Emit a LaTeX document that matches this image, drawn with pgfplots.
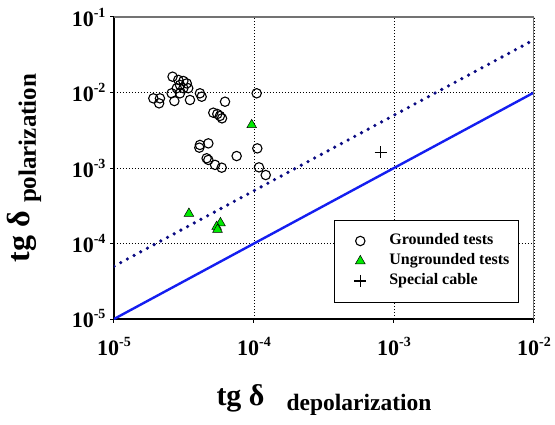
\documentclass[border=0pt]{standalone}
\usepackage{pgfplots}
\pgfplotsset{compat=1.18}
\usepackage{fontspec}
\setmainfont{Liberation Serif}

% power-of-ten tick label with a raised, smaller exponent
\newcommand\pten[1]{10\raisebox{9pt}{\fontsize{14}{14}\selectfont -#1}}

\definecolor{lineblue}{RGB}{20,30,240}
\definecolor{dotnavy}{RGB}{10,10,130}
\definecolor{trigreen}{RGB}{0,235,0}

\begin{document}
\begin{tikzpicture}
\begin{axis}[
  name=ax,
  scale only axis, width=420pt, height=302pt,
  xmode=log, ymode=log,
  xmin=1e-5, xmax=1e-2, ymin=1e-5, ymax=1e-1,
  axis x line*=bottom, axis y line*=left,
  axis line style={line width=1.2pt, black, -},
  xtick={1e-5,1e-4,1e-3,1e-2},
  ytick={1e-5,1e-4,1e-3,1e-2,1e-1},
  xticklabels={\pten{5},\pten{4},\pten{3},\pten{2}},
  yticklabels={\pten{5},\pten{4},\pten{3},\pten{2},\pten{1}},
  xminorticks=false, yminorticks=false,
  tick align=outside, major tick length=4pt,
  tick style={line width=1pt, black},
  grid=major,
  major grid style={black, line width=0.9pt, dash pattern=on 1pt off 2pt},
  ticklabel style={font=\fontsize{22}{26}\selectfont\bfseries},
  xticklabel style={yshift=-11pt},
  yticklabel style={xshift=-1pt},
  xlabel={\fontsize{30}{34}\selectfont\bfseries tg δ\hspace{22pt}\raisebox{-5pt}{\fontsize{23.5}{27}\selectfont depolarization}},
  ylabel={\fontsize{32}{36}\selectfont\bfseries tg δ\hspace{8pt}\raisebox{-6pt}{\fontsize{25}{29}\selectfont polarization}},
  xlabel style={at={(axis description cs:0.5,-0.285)}, anchor=base, inner sep=0pt},
  ylabel style={at={(axis description cs:-0.2,0.5)}, anchor=base, inner sep=0pt},
  legend style={at={(rel axis cs:0.964,0.055)}, anchor=south east,
    draw=black, line width=0.8pt, fill=white,
    font=\fontsize{16}{19}\selectfont\bfseries,
    inner xsep=0pt, inner ysep=13pt, row sep=4pt,
    nodes={inner xsep=9pt, inner ysep=0pt, text height=12pt, text depth=4pt}},
  legend image code/.code={%
    \path[draw=none, fill=none] (-26pt,0pt) -- (20pt,0pt);
    \draw[#1] plot coordinates {(0pt,0pt)};},
  legend cell align=left,
]
% reference lines: equality and five times equality
\addplot[lineblue, line width=2.4pt, forget plot] coordinates {(1e-5,1e-5) (1e-2,1e-2)};
\addplot[dotnavy, line width=3.6pt, line cap=round, dash pattern=on 0pt off 7.6pt, forget plot]
  coordinates {(1e-5,5e-5) (1e-2,5e-2)};

% grounded tests
\addplot[only marks, mark=o, mark size=4.7pt, mark options={black, line width=1.1pt}]
  coordinates {
  (2.62e-5,1.62e-2) (2.88e-5,1.47e-2) (3.13e-5,1.42e-2) (3.31e-5,1.32e-2)
  (2.96e-5,1.26e-2) (2.81e-5,1.14e-2) (3.13e-5,1.14e-2) (3.39e-5,1.14e-2)
  (2.58e-5,9.76e-3) (2.96e-5,9.76e-3) (1.91e-5,8.37e-3) (2.13e-5,8.37e-3)
  (2.10e-5,7.19e-3) (2.70e-5,7.71e-3) (3.49e-5,7.96e-3) (4.11e-5,9.76e-3)
  (4.23e-5,8.80e-3) (6.21e-5,7.55e-3) (5.12e-5,5.40e-3) (5.47e-5,5.19e-3)
  (5.71e-5,4.89e-3) (5.91e-5,4.55e-3) (1.045e-4,9.76e-3) (4.11e-5,2.02e-3)
  (4.07e-5,1.86e-3) (4.72e-5,2.12e-3) (4.59e-5,1.345e-3) (4.72e-5,1.28e-3)
  (5.27e-5,1.10e-3) (5.88e-5,1.01e-3) (7.52e-5,1.44e-3) (1.056e-4,1.82e-3)
  (1.086e-4,1.02e-3) (1.213e-4,8.07e-4)
  };
\addlegendentry{Grounded tests}

% ungrounded tests
\addplot[only marks, mark=triangle*, mark size=5.6pt, mark options={fill=trigreen, draw=black, line width=0.5pt}]
  coordinates {
  (9.63e-5,3.72e-3) (3.43e-5,2.49e-4) (5.76e-5,1.87e-4) (5.41e-5,1.67e-4) (5.49e-5,1.53e-4)
  };
\addlegendentry{Ungrounded tests}

% special cable
\addplot[only marks, mark=+, mark size=6pt, mark options={black, line width=1.3pt}]
  coordinates {(8.04e-4,1.61e-3)};
\addlegendentry{Special cable}

% light top and right frame
\draw[black!55, line width=1.1pt] (rel axis cs:0,1) -- (rel axis cs:1,1) -- (rel axis cs:1,0);
\end{axis}
\pgfresetboundingbox
\path[use as bounding box] ([shift={(-114pt,-105pt)}]ax.south west) rectangle ++(555pt,424pt);
\end{tikzpicture}
\end{document}
